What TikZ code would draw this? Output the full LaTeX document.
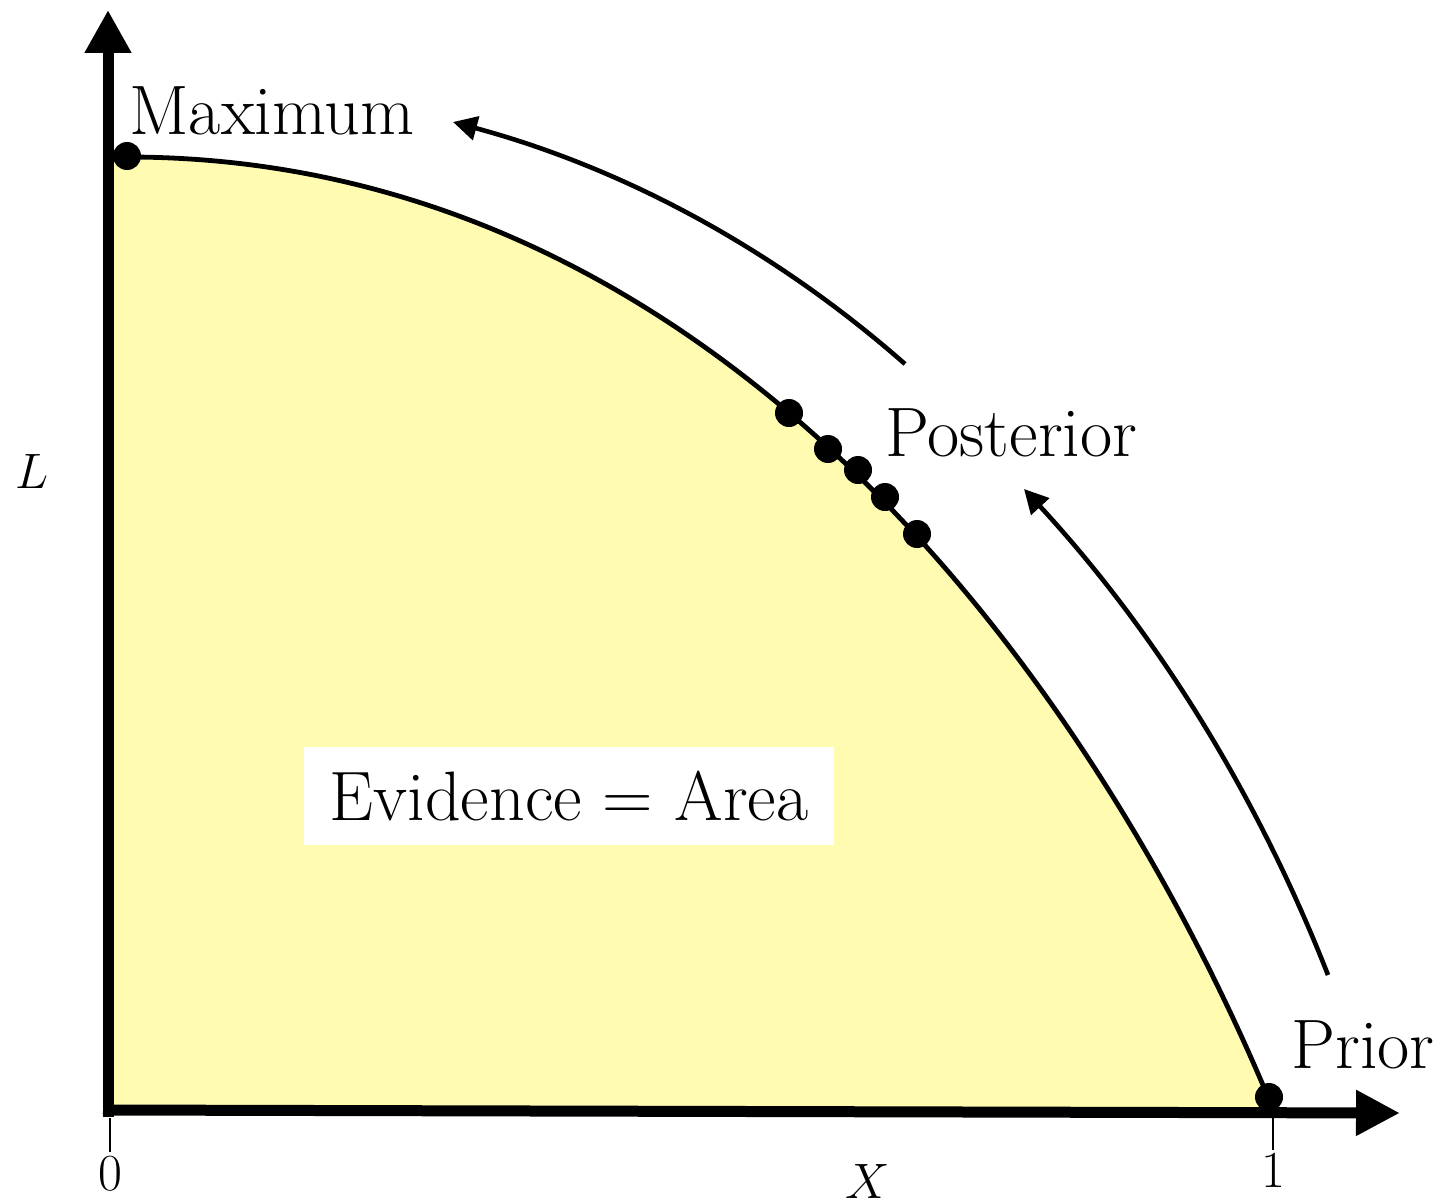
\documentclass[tikz,border=0pt]{standalone}
\usetikzlibrary{arrows.meta}
\definecolor{evfill}{RGB}{255,252,178}
\begin{document}
\begin{tikzpicture}[x=0.5pt,y=-0.5pt,
  dot/.style={circle,fill=black,inner sep=0pt,minimum size=14pt},
  biglabel/.style={font=\fontsize{35}{42}\selectfont,inner sep=0pt},
  smalllabel/.style={font=\fontsize{26}{31}\selectfont,inner sep=0pt},
  axisline/.style={line width=5.5pt},
  flow/.style={line width=2.3pt,-{Triangle[length=12pt,width=12pt]}},
  tickline/.style={line width=1pt},
  curveline/.style={line width=2.4pt}]
\useasboundingbox (0,0) rectangle (1440,1204);

% coordinates
\coordinate (origin) at (108,1110);
\coordinate (ytop) at (108,10);
\coordinate (xend) at (1400,1113);
\coordinate (ybot) at (108,1117);
\coordinate (xbeg) at (103,1110);
\coordinate (cstart) at (127,157);
\coordinate (cend) at (1268,1097);

% area
\fill[evfill] (108,157) -- (cstart) .. controls (727,157) and (1100,697) .. (cend) -- (1268,1110) -- (origin) -- cycle;

% curve
\draw[curveline] (cstart) .. controls (727,157) and (1100,697) .. (cend);

% axes
\draw[axisline,-{Triangle[length=21.5pt,width=22pt]}] (ybot) -- (ytop);
\draw[axisline,-{Triangle[length=22pt,width=21.5pt]}] (xbeg) -- (xend);

% ticks
\coordinate (t0a) at (110,1118);
\coordinate (t0b) at (110,1152);
\coordinate (t1a) at (1273,1118);
\coordinate (t1b) at (1273,1150);
\draw[tickline] (t0a) -- (t0b);
\draw[tickline] (t1a) -- (t1b);

% dots
\node[dot] (max) at (127,156) {};
\node[dot] (p1) at (789,413) {};
\node[dot] (p2) at (828,449) {};
\node[dot] (p3) at (858,470) {};
\node[dot] (p4) at (885,497) {};
\node[dot] (p5) at (917,534) {};
\node[dot] (prior) at (1269,1097) {};

% labels
\node[biglabel,anchor=base west] (lmax) at (129,134) {Maximum};
\node[biglabel,anchor=base west] (lpost) at (885,456) {Posterior};
\node[biglabel,anchor=base west] (lprior) at (1291,1068) {Prior};
\node[biglabel,fill=white,minimum width=265pt,minimum height=49pt] (ev) at (569,796) {Evidence = Area};
\node[smalllabel,anchor=base] (lL) at (32,488) {$L$};
\node[smalllabel,anchor=base] (l0) at (110,1190) {0};
\node[smalllabel,anchor=base] (l1) at (1273,1187) {1};
\node[smalllabel,anchor=base] (lX) at (868,1198) {$X$};

% flow arrows
\coordinate (a1s) at (905,364);
\coordinate (a1e) at (453,122);
\coordinate (a2s) at (1328,975);
\coordinate (a2e) at (1024,489);
\draw[flow] (a1s) .. controls (773,248) and (623,168) .. (a1e);
\draw[flow] (a2s) .. controls (1257,794) and (1156,632) .. (a2e);
\end{tikzpicture}
\end{document}
